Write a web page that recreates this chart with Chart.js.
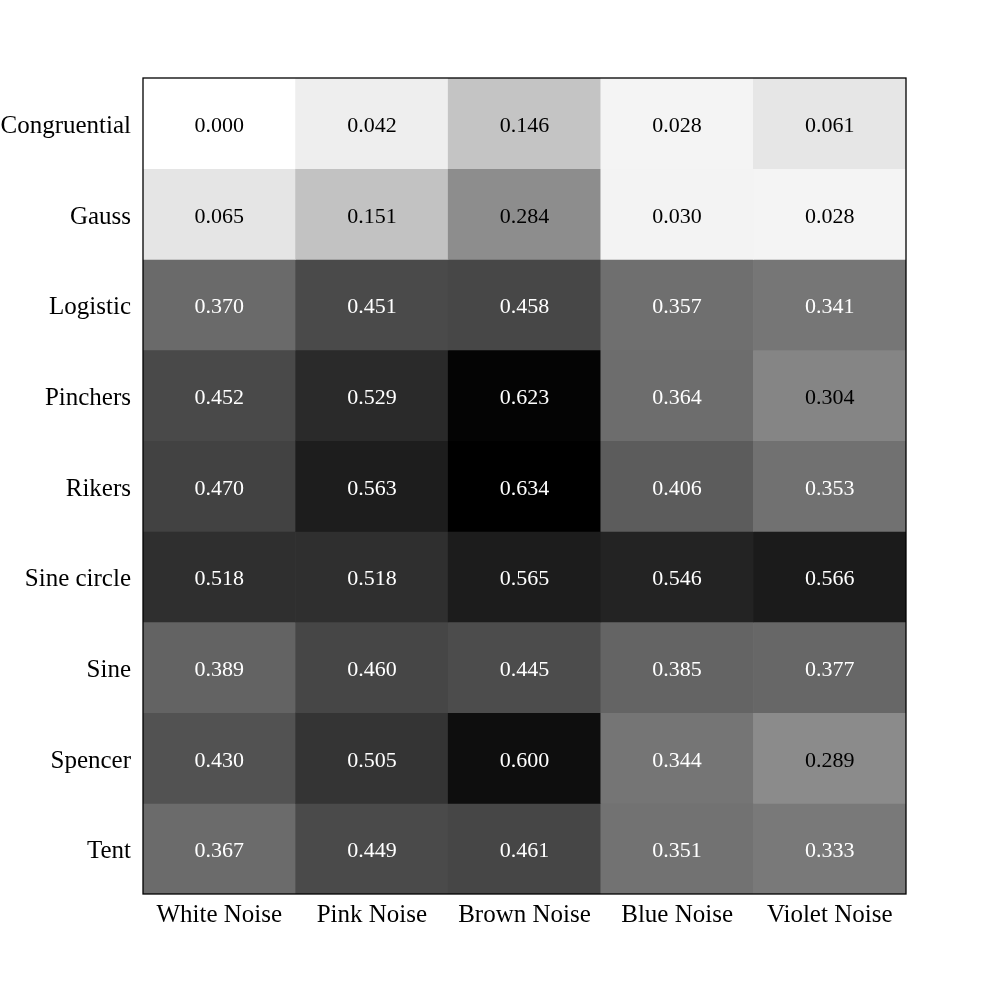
<!DOCTYPE html>
<html>
<head>
<meta charset="utf-8">
<script src="https://cdn.jsdelivr.net/npm/chart.js@4.4.1/dist/chart.umd.min.js"></script>
<style>
  html, body { margin: 0; padding: 0; background: #fff; }
  #wrap { width: 1000px; height: 1000px; }
</style>
</head>
<body>
<div id="wrap"><canvas id="heat"></canvas></div>
<script>
const noises = ['White Noise', 'Pink Noise', 'Brown Noise', 'Blue Noise', 'Violet Noise'];
const maps = ['Congruential', 'Gauss', 'Logistic', 'Pinchers', 'Rikers', 'Sine circle', 'Sine', 'Spencer', 'Tent'];

const congruential = [0.000, 0.042, 0.146, 0.028, 0.061];
const gauss        = [0.065, 0.151, 0.284, 0.030, 0.028];
const logistic     = [0.370, 0.451, 0.458, 0.357, 0.341];
const pinchers     = [0.452, 0.529, 0.623, 0.364, 0.304];
const rikers       = [0.470, 0.563, 0.634, 0.406, 0.353];
const sineCircle   = [0.518, 0.518, 0.565, 0.546, 0.566];
const sine         = [0.389, 0.460, 0.445, 0.385, 0.377];
const spencer      = [0.430, 0.505, 0.600, 0.344, 0.289];
const tent         = [0.367, 0.449, 0.461, 0.351, 0.333];

const values = [congruential, gauss, logistic, pinchers, rikers, sineCircle, sine, spencer, tent];

const vmin = Math.min(...values.flat());
const vmax = Math.max(...values.flat());

// gray_r: low = white, high = black
function grayOf(v) {
  const g = Math.round(255 * (1 - (v - vmin) / (vmax - vmin)));
  return `rgb(${g},${g},${g})`;
}

const datasets = maps.map((name, r) => ({
  label: name,
  data: noises.map(() => 1),
  vals: values[r],
  backgroundColor: values[r].map(grayOf),
  borderWidth: 0,
  barPercentage: 1,
  categoryPercentage: 1
}));

// cell values written in the middle of each bar
const cellText = {
  id: 'cellText',
  afterDatasetsDraw(chart) {
    const ctx = chart.ctx;
    ctx.save();
    ctx.font = '22px "Liberation Serif", "DejaVu Serif", serif';
    ctx.textAlign = 'center';
    ctx.textBaseline = 'middle';
    chart.data.datasets.forEach((ds, i) => {
      chart.getDatasetMeta(i).data.forEach((bar, j) => {
        const v = ds.vals[j];
        const {x, y, base} = bar.getProps(['x', 'y', 'base'], true);
        ctx.fillStyle = v > (vmin + vmax) / 2 ? '#ffffff' : '#000000';
        ctx.fillText(v.toFixed(3), x, (y + base) / 2 + 3);
      });
    });
    ctx.restore();
  }
};

// black frame round the plot area
const frame = {
  id: 'frame',
  afterDraw(chart) {
    const a = chart.chartArea;
    const ctx = chart.ctx;
    ctx.save();
    ctx.strokeStyle = '#000';
    ctx.lineWidth = 1.3;
    ctx.strokeRect(a.left, a.top, a.right - a.left, a.bottom - a.top);
    ctx.restore();
  }
};

const tickFont = { family: '"Liberation Serif", "DejaVu Serif", serif', size: 25 };

new Chart(document.getElementById('heat'), {
  type: 'bar',
  data: { labels: noises, datasets },
  plugins: [cellText, frame],
  options: {
    responsive: true,
    maintainAspectRatio: false,
    animation: false,
    layout: { padding: { left: 0, right: 94, top: 78, bottom: 0 } },
    plugins: {
      legend: { display: false },
      tooltip: { enabled: false }
    },
    scales: {
      x: {
        stacked: true,
        grid: { display: false, drawTicks: false },
        border: { display: false },
        ticks: { font: tickFont, color: '#000', padding: 6, maxRotation: 0, autoSkip: false },
        afterFit(axis) { axis.height = 106; }
      },
      y: {
        stacked: true,
        reverse: true,
        min: 0,
        max: maps.length,
        grid: { display: false, drawTicks: false },
        border: { display: false },
        afterBuildTicks(axis) {
          axis.ticks = maps.map((_, i) => ({ value: i + 0.5 }));
        },
        ticks: {
          font: tickFont,
          color: '#000',
          padding: 12,
          labelOffset: 3,
          autoSkip: false,
          callback: v => maps[Math.floor(v)]
        },
        afterFit(axis) { axis.width = 143; }
      }
    }
  }
});
</script>
</body>
</html>
